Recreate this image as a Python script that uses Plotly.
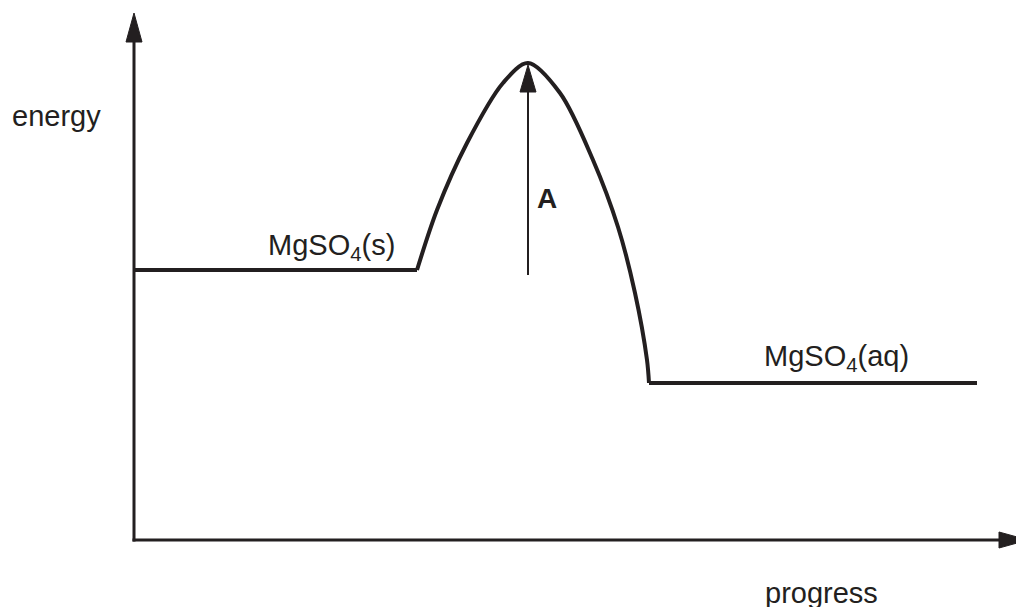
import plotly.graph_objects as go

# ---- data (progress vs energy, arbitrary units) ----
left_progress = [0, 283]
left_energy = [270, 270]
hump_progress = [283, 303, 333, 369, 394, 426, 459, 484, 501, 513, 515]
hump_energy = [270, 330, 397, 457, 477, 447, 380, 313, 247, 180, 157]
right_progress = [515, 843]
right_energy = [157, 157]

arrow_a_progress = 394
arrow_a_from = 265
arrow_a_to = 477

y_axis_top = 527
x_axis_end = 894

labels = ["MgSO<sub>4</sub>(s)", "MgSO<sub>4</sub>(aq)"]
label_pos = [(197, 293), (702, 182)]

INK = "#231f20"
FONT = "Liberation Sans, Arial, Helvetica, sans-serif"

fig = go.Figure()
for xs, ys, shape in [(left_progress, left_energy, "linear"),
                      (hump_progress, hump_energy, "spline"),
                      (right_progress, right_energy, "linear")]:
    fig.add_trace(go.Scatter(x=xs, y=ys, mode="lines",
                             line=dict(color=INK, width=4, shape=shape, smoothing=0.9),
                             hoverinfo="skip", showlegend=False))

head_len = 29
head_half = 8
shapes = []
# y axis
shapes.append(dict(type="line", xref="x", yref="y", x0=0, y0=-1.5, x1=0,
                   y1=y_axis_top - head_len + 2, line=dict(color=INK, width=3)))
shapes.append(dict(type="path", xref="x", yref="y",
                   path=f"M {0},{y_axis_top} L {-head_half},{y_axis_top - head_len} L {head_half},{y_axis_top - head_len} Z",
                   fillcolor=INK, line=dict(color=INK, width=1)))
# x axis
shapes.append(dict(type="line", xref="x", yref="y", x0=-1.5, y0=0,
                   x1=x_axis_end - head_len + 2, y1=0, line=dict(color=INK, width=3)))
shapes.append(dict(type="path", xref="x", yref="y",
                   path=f"M {x_axis_end},{0} L {x_axis_end - head_len},{head_half} L {x_axis_end - head_len},{-head_half} Z",
                   fillcolor=INK, line=dict(color=INK, width=1)))
# arrow A
a_len = 27
shapes.append(dict(type="line", xref="x", yref="y", x0=arrow_a_progress, y0=arrow_a_from,
                   x1=arrow_a_progress, y1=arrow_a_to - a_len, line=dict(color=INK, width=2)))
shapes.append(dict(type="path", xref="x", yref="y",
                   path=f"M {arrow_a_progress},{arrow_a_to - 2} L {arrow_a_progress - 8},{arrow_a_to - a_len - 2} L {arrow_a_progress + 8},{arrow_a_to - a_len - 2} Z",
                   fillcolor=INK, line=dict(color=INK, width=1)))

annotations = [
    dict(x=-78, y=424, text="energy", showarrow=False, xref="x", yref="y",
         font=dict(size=29, color=INK, family=FONT)),
    dict(x=687, y=-53, text="progress", showarrow=False, xref="x", yref="y",
         font=dict(size=29, color=INK, family=FONT)),
    dict(x=arrow_a_progress + 19, y=342, text="<b>A</b>", showarrow=False, xref="x", yref="y",
         font=dict(size=28, color=INK, family=FONT)),
]
for t, (px, py) in zip(labels, label_pos):
    annotations.append(dict(x=px, y=py, text=t, showarrow=False, xref="x", yref="y",
                            font=dict(size=29, color=INK, family=FONT)))

fig.update_layout(
    width=1016, height=607, margin=dict(l=0, r=0, t=0, b=0),
    paper_bgcolor="white", plot_bgcolor="white",
    xaxis=dict(range=[-134, 882], visible=False, fixedrange=True),
    yaxis=dict(range=[-67, 540], visible=False, fixedrange=True),
    shapes=shapes, annotations=annotations,
)
fig.write_html(
    "out.html",
    config={"displayModeBar": False, "staticPlot": True},
    post_script="document.body.style.margin='0';document.body.style.overflow='hidden';",
)
